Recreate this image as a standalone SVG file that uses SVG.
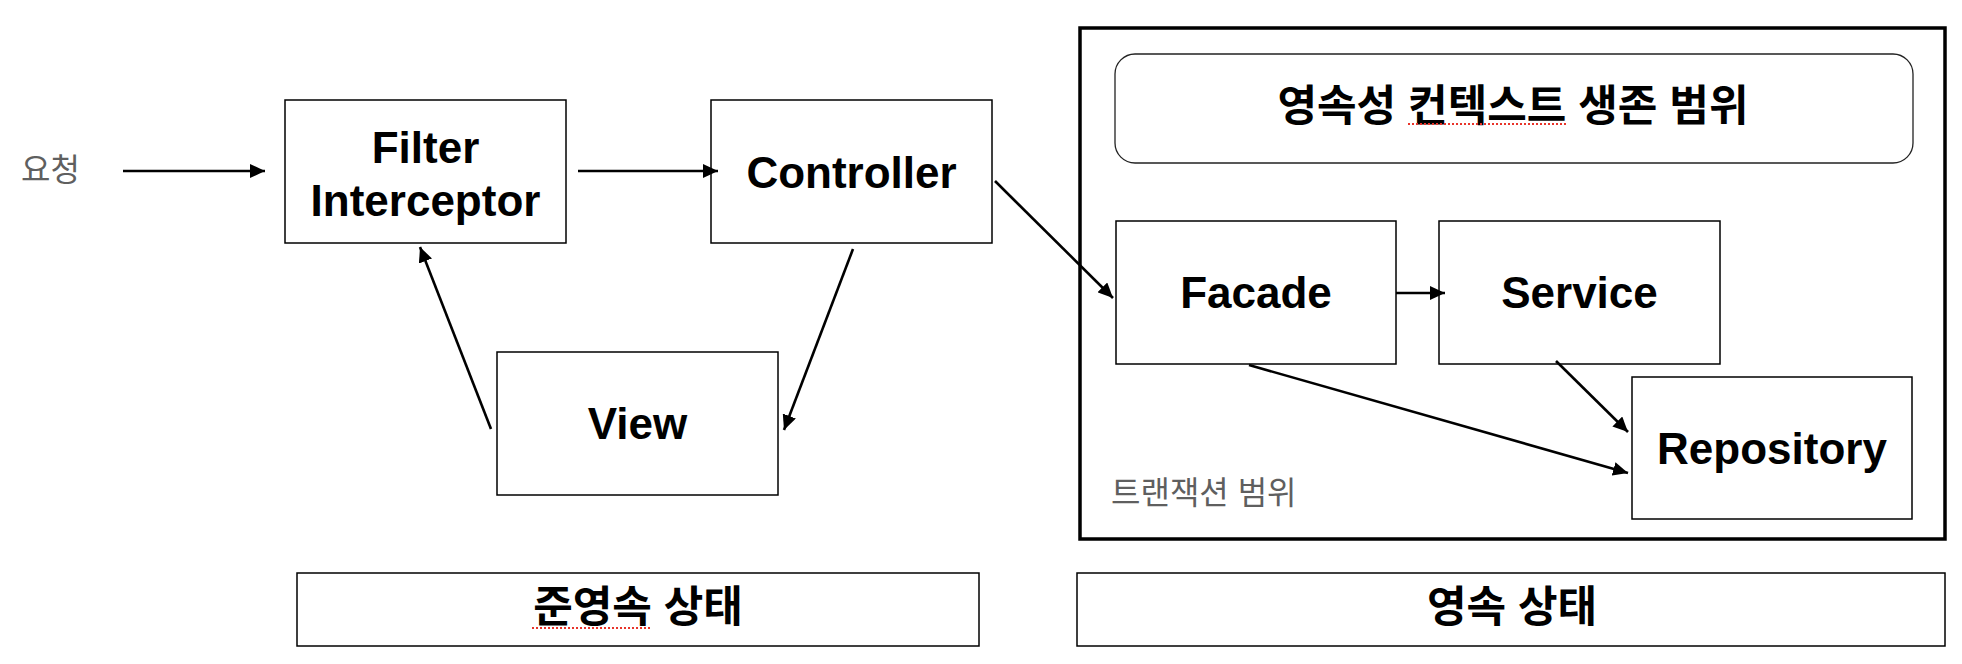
<svg xmlns="http://www.w3.org/2000/svg" width="1962" height="664" viewBox="0 0 1962 664">
<style>
.box{fill:#fff;stroke:#000;stroke-width:1.5}
.lbl{font-family:"Liberation Sans","Noto Sans CJK KR",sans-serif;font-weight:bold;font-size:44px;fill:#000;text-anchor:middle}
.kr{font-family:"Liberation Sans","Noto Sans CJK KR",sans-serif;font-weight:bold;font-size:43px;fill:#000;text-anchor:middle;dominant-baseline:central}
.note{font-family:"Liberation Sans","Noto Sans CJK KR",sans-serif;font-size:32px;fill:#5f5f5f;dominant-baseline:central}
.conn{stroke:#000;stroke-width:2.6;fill:none;marker-end:url(#ah)}
.spell{stroke:#e8342a;stroke-width:2;stroke-dasharray:2 2;fill:none}
</style>
<defs>
<marker id="ah" markerUnits="userSpaceOnUse" markerWidth="16" markerHeight="14" refX="15" refY="7" orient="auto">
<path d="M0,0 L15,7 L0,14 Z" fill="#000"/>
</marker>
</defs>
<rect width="1962" height="664" fill="#fff"/>

<g id="request-label"><text class="note" x="21" y="170">요청</text></g>

<g id="transaction-scope">
<rect x="1080" y="28" width="865" height="511" fill="none" stroke="#000" stroke-width="3.5"/>
<text class="note" x="1111" y="493">트랜잭션 범위</text>
</g>

<g id="persistence-context">
<rect x="1115" y="54" width="798" height="109" rx="20" ry="20" fill="#fff" stroke="#222" stroke-width="1.3"/>
<text class="kr" x="1513" y="106">영속성 컨텍스트 생존 범위</text>
<line class="spell" x1="1408" y1="124" x2="1567" y2="124"/>
</g>

<g id="filter-interceptor">
<rect class="box" x="285" y="100" width="281" height="143"/>
<text class="lbl" x="425.5" y="163">Filter</text>
<text class="lbl" x="425.5" y="216">Interceptor</text>
</g>

<g id="controller">
<rect class="box" x="711" y="100" width="281" height="143"/>
<text class="lbl" x="851.5" y="188">Controller</text>
</g>

<g id="view">
<rect class="box" x="497" y="352" width="281" height="143"/>
<text class="lbl" x="637.5" y="439">View</text>
</g>

<g id="facade">
<rect class="box" x="1116" y="221" width="280" height="143"/>
<text class="lbl" x="1256" y="308">Facade</text>
</g>

<g id="service">
<rect class="box" x="1439" y="221" width="281" height="143"/>
<text class="lbl" x="1579.5" y="308">Service</text>
</g>

<g id="repository">
<rect class="box" x="1632" y="377" width="280" height="142"/>
<text class="lbl" x="1772" y="464">Repository</text>
</g>

<g id="detached-state">
<rect class="box" x="297" y="573" width="682" height="73"/>
<text class="kr" x="638" y="607">준영속 상태</text>
<line class="spell" x1="532" y1="628" x2="651" y2="628"/>
</g>

<g id="managed-state">
<rect class="box" x="1077" y="573" width="868" height="73"/>
<text class="kr" x="1512" y="607">영속 상태</text>
</g>

<g id="connectors">
<line class="conn" x1="123" y1="171" x2="265" y2="171"/>
<line class="conn" x1="578" y1="171" x2="718" y2="171"/>
<line class="conn" x1="853" y1="249" x2="784" y2="430"/>
<line class="conn" x1="491" y1="429" x2="420" y2="247"/>
<line class="conn" x1="995" y1="181" x2="1113" y2="298"/>
<line class="conn" x1="1396" y1="293" x2="1445" y2="293"/>
<line class="conn" x1="1556" y1="361" x2="1628" y2="432"/>
<line class="conn" x1="1249" y1="365" x2="1628" y2="473"/>
</g>
</svg>
